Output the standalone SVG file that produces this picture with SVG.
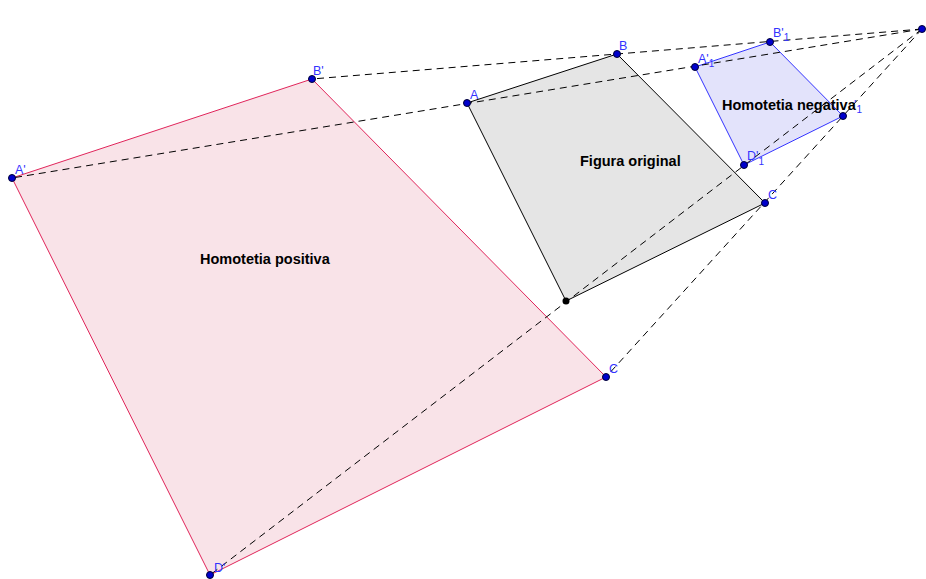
<svg xmlns="http://www.w3.org/2000/svg" width="926" height="579" viewBox="0 0 926 579">
<style>
.dash{stroke:#000;stroke-width:1;stroke-dasharray:7 5;fill:none}
.pt{fill:#0000cc;stroke:#000033;stroke-width:1}
.lbl{font-family:"Liberation Sans",Arial,sans-serif;font-size:12.5px;fill:#3333ff}
.sub{font-size:10px}
.title{font-family:"Liberation Sans",Arial,sans-serif;font-size:14.5px;font-weight:bold;fill:#000}
</style>
<rect width="926" height="579" fill="#fff"/>
<g id="positiva">
<polygon points="12,178 312,79 606,377 210,575" fill="#f9e3e8" stroke="#e0245a" stroke-width="1"/>
<text class="title" x="200" y="264">Homotetia positiva</text>
</g>
<g id="original">
<polygon points="467,103 617,54 765,203 566,301" fill="#e5e5e5" stroke="#000" stroke-width="1"/>
<text class="title" x="580" y="166">Figura original</text>
</g>
<g id="negativa">
<polygon points="695,67 770,42 843,116 744,165" fill="#e3e3fb" stroke="#3333ff" stroke-width="1"/>
</g>
<g id="connectors">
<line class="dash" x1="922" y1="29" x2="12" y2="178"/>
<line class="dash" x1="922" y1="29" x2="312" y2="79"/>
<line class="dash" x1="922" y1="29" x2="606" y2="377"/>
<line class="dash" x1="922" y1="29" x2="210" y2="575"/>
</g>
<g id="negativa-label">
<text class="title" x="722" y="110">Homotetia negativa</text>
</g>
<g id="points">
<circle class="pt" cx="922" cy="29" r="3.5"/>
<circle class="pt" cx="12" cy="178" r="3.5"/>
<circle class="pt" cx="312" cy="79" r="3.5"/>
<circle class="pt" cx="606" cy="377" r="3.5"/>
<circle class="pt" cx="210" cy="575" r="3.5"/>
<circle class="pt" cx="467" cy="103" r="3.5"/>
<circle class="pt" cx="617" cy="54" r="3.5"/>
<circle class="pt" cx="765" cy="203" r="3.5"/>
<circle cx="566" cy="301" r="3.5" fill="#000"/>
<circle class="pt" cx="695" cy="67" r="3.5"/>
<circle class="pt" cx="770" cy="42" r="3.5"/>
<circle class="pt" cx="843" cy="116" r="3.5"/>
<circle class="pt" cx="744" cy="165" r="3.5"/>
</g>
<g id="labels">
<text class="lbl" x="15" y="174">A'</text>
<text class="lbl" x="313" y="75">B'</text>
<text class="lbl" x="609" y="373">C</text>
<text class="lbl" x="214" y="572">D'</text>
<text class="lbl" x="470" y="99">A</text>
<text class="lbl" x="619" y="50">B</text>
<text class="lbl" x="768" y="199">C</text>
<text class="lbl" x="698" y="63">A'<tspan class="sub" dy="4">1</tspan></text>
<text class="lbl" x="773" y="37">B'<tspan class="sub" dy="4">1</tspan></text>
<text class="lbl" x="854" y="109">'<tspan class="sub" dy="4">1</tspan></text>
<text class="lbl" x="747" y="160">D'<tspan class="sub" dy="5">1</tspan></text>
</g>
</svg>
